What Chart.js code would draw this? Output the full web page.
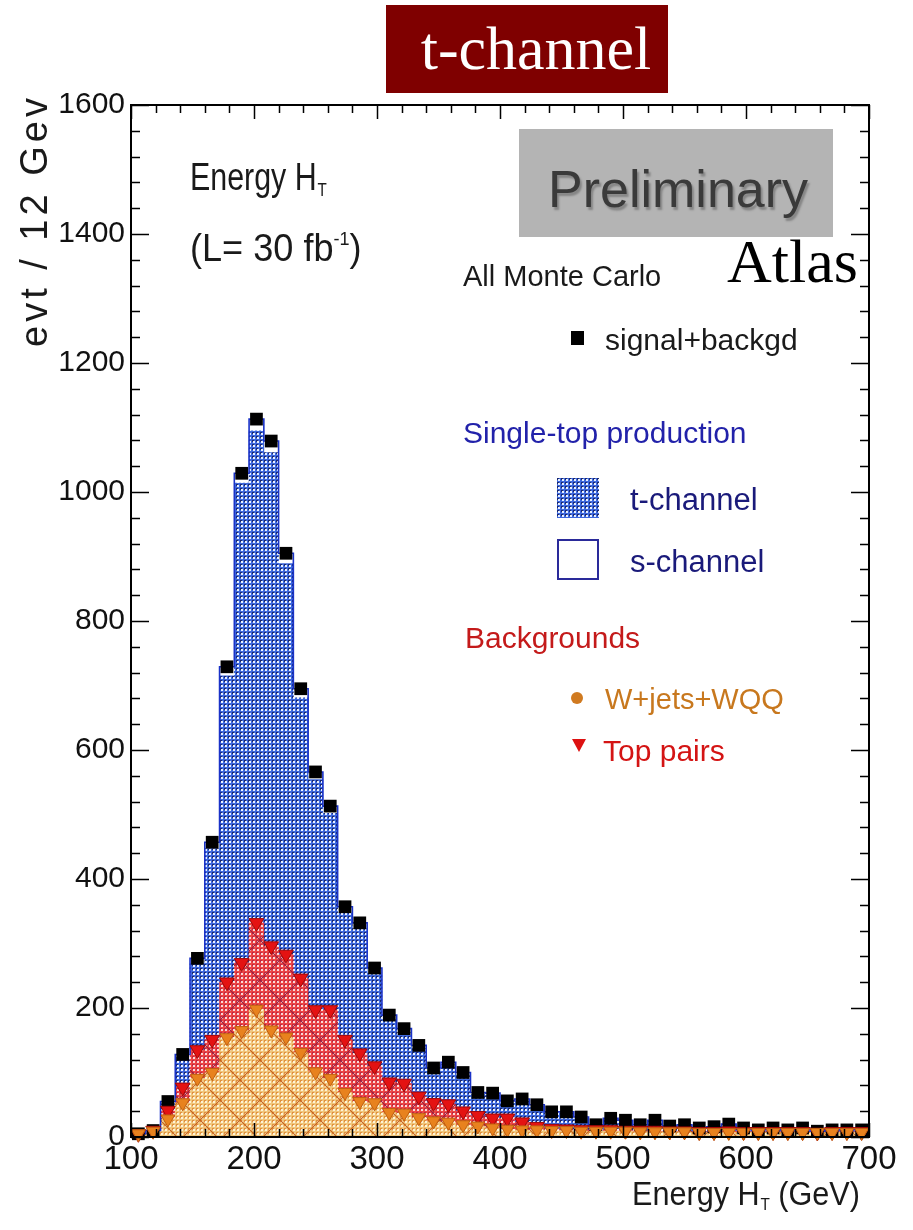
<!DOCTYPE html>
<html><head><meta charset="utf-8">
<script src="https://cdn.jsdelivr.net/npm/chart.js@4/dist/chart.umd.min.js"></script>
<style>
html,body{margin:0;padding:0;background:#fff}
#wrap{position:relative;width:913px;height:1230px;overflow:hidden;background:#fff}
#c{position:absolute;left:0;top:0}
.t{position:absolute;line-height:1;white-space:nowrap;font-family:'Liberation Sans',Arial,sans-serif;color:#1a1a1a}
.sub{font-size:0.5em;position:relative;top:0.3em;margin-left:1px}
.sup{font-size:0.5em;position:relative;top:-0.85em}
</style></head><body>
<div id="wrap">
<canvas id="c" width="913" height="1230"></canvas>

<div style="position:absolute;left:386px;top:5px;width:282px;height:88px;background:#7f0000;box-sizing:border-box;padding-left:18px;text-align:center;color:#fff;font-family:'Liberation Serif','Times New Roman',serif;font-size:62px;line-height:86px">t-channel</div>

<div class="t" style="left:190px;top:158px;font-size:38px;transform:scaleX(0.8);transform-origin:0 0">Energy H<span class="sub">T</span></div>
<div class="t" style="left:190px;top:229px;font-size:38px;transform:scaleX(0.95);transform-origin:0 0">(L= 30 fb<span class="sup">-1</span>)</div>

<div style="position:absolute;left:519px;top:129px;width:314px;height:108px;background:#b4b4b4"></div>
<div class="t" style="left:548px;top:163px;font-size:52px;color:#3a3a3a;text-shadow:2px 3px 2px #858585">Preliminary</div>
<div class="t" style="left:727px;top:230px;font-size:62px;color:#000;font-family:'Liberation Serif','Times New Roman',serif">Atlas</div>

<div class="t" style="left:463px;top:262px;font-size:29px">All Monte Carlo</div>
<div style="position:absolute;left:571px;top:331px;width:13px;height:14px;background:#000"></div>
<div class="t" style="left:605px;top:325px;font-size:30px">signal+backgd</div>

<div class="t" style="left:463px;top:418px;font-size:30px;color:#2222aa">Single-top production</div>
<canvas id="sw" width="42" height="40" style="position:absolute;left:557px;top:478px"></canvas>
<div class="t" style="left:630px;top:484px;font-size:31px;color:#1a1a7a">t-channel</div>
<div style="position:absolute;left:557px;top:539px;width:42px;height:41px;border:2px solid #2a2a9a;box-sizing:border-box;background:#fff"></div>
<div class="t" style="left:630px;top:546px;font-size:31px;color:#1a1a7a">s-channel</div>

<div class="t" style="left:465px;top:623px;font-size:30px;color:#c41a1a">Backgrounds</div>
<div style="position:absolute;left:571px;top:692px;width:12px;height:12px;border-radius:50%;background:#d07a20"></div>
<div class="t" style="left:605px;top:685px;font-size:29px;color:#c8781e">W+jets+WQQ</div>
<div style="position:absolute;left:572px;top:739px;width:0;height:0;border-left:7.5px solid transparent;border-right:7.5px solid transparent;border-top:13px solid #dd1111"></div>
<div class="t" style="left:603px;top:736px;font-size:30px;color:#d41414">Top pairs</div>

<div class="t" style="left:0;top:0;font-size:38px;letter-spacing:4px;transform-origin:0 0;transform:translate(15px,347px) rotate(-90deg)">evt / 12 Gev</div>
<div class="t" style="left:632px;top:1176px;font-size:34px;transform:scaleX(0.9);transform-origin:0 0">Energy H<span class="sub">T</span> (GeV)</div>
</div>

<script>
// ---- data ----
const binCenters = [106,118,130,142,154,166,178,190,202,214,226,238,250,262,274,286,298,310,322,334,346,358,370,382,394,406,418,430,442,454,466,478,490,502,514,526,538,550,562,574,586,598,610,622,634,646,658,670,682,694];
const wjets     = [5,9,28,53,91,100,154,165,198,166,155,131,101,91,69,55,53,38,37,30,25,23,19,17,14,12,11,11,10,10,9,9,9,9,8,8,8,8,7,7,7,7,7,7,7,7,7,7,7,7];
const topPairs  = [0,1,13,24,44,51,86,105,134,130,128,115,96,106,82,75,57,47,46,33,28,28,21,16,15,17,12,5,3,2,2,2,2,1,2,2,1,1,1,1,2,1,1,1,1,1,0,1,1,1];
const tChannel  = [0,0,11,46,134,296,475,744,763,765,606,435,357,305,196,193,144,97,79,74,49,61,56,33,36,24,33,32,24,25,18,7,17,15,8,15,7,9,5,7,10,5,2,5,2,5,1,2,2,2];
const sChannel  = [0,0,3,5,8,10,14,15,18,18,16,14,12,11,10,9,8,7,6,5,5,4,4,3,3,3,3,2,2,2,2,1,1,1,1,1,1,1,1,1,1,1,1,1,1,1,1,1,1,1];
const signalBackgd = [5,10,55,128,277,457,729,1029,1113,1079,905,695,566,513,357,332,262,189,168,142,107,116,100,69,68,56,59,50,39,39,31,19,29,26,19,26,17,19,14,16,20,14,11,14,11,14,9,11,11,11];
const xTicks = [100,200,300,400,500,600,700];
const yTicks = [0,200,400,600,800,1000,1200,1400,1600];

// ---- fill patterns ----
function makeTile(base, dark, light, lineColor, period){
  const c=document.createElement('canvas'); c.width=c.height=period; const g=c.getContext('2d');
  g.fillStyle=base; g.fillRect(0,0,period,period);
  for(let i=0;i<period;i+=4) for(let j=0;j<period;j+=4){
    g.fillStyle=dark; g.fillRect(i,j,2,1); g.fillRect(i,j,1,2);
    g.fillStyle=light; g.fillRect(i+1,j+1,2,2);
  }
  if(lineColor){ g.strokeStyle=lineColor; g.lineWidth=1.2; g.beginPath();
    g.moveTo(0,0); g.lineTo(period,period); g.moveTo(period,0); g.lineTo(0,period); g.stroke(); }
  return c;
}
const ctx=document.getElementById('c').getContext('2d');
const blueTile=makeTile('#3e68dc','#1c2a70','#e8f0ff',null,40);
const pBlue=ctx.createPattern(blueTile,'repeat');
const pRed=ctx.createPattern(makeTile('#ec4646','#c02840','#fad8d8','#9a2040',40),'repeat');
const pOrange=ctx.createPattern(makeTile('#f0c67c','#e09040','#fff2d6','#c8621c',40),'repeat');
const sw=document.getElementById('sw').getContext('2d'); sw.fillStyle=sw.createPattern(blueTile,'repeat'); sw.fillRect(0,0,42,40);

const pts = arr => binCenters.map((x,i)=>({x, y: arr[i]}));
const cumRed = binCenters.map((x,i)=>({x, y: wjets[i]+topPairs[i]}));
const envelope = [{x:xTicks[0], y:signalBackgd[0]}].concat(pts(signalBackgd), [{x:xTicks[xTicks.length-1], y:signalBackgd[signalBackgd.length-1]}]);

const barCommon={type:'bar',barPercentage:1,categoryPercentage:1,borderWidth:0,order:10,stack:'mc'};

const frame={id:'frame',afterDatasetsDraw(chart){
  const {ctx,chartArea:{left,right,top,bottom},scales:{x,y}}=chart;
  ctx.save(); ctx.strokeStyle='#000'; ctx.lineWidth=2;
  ctx.strokeRect(left,top,right-left,bottom-top);
  ctx.lineWidth=1.5; ctx.beginPath();
  for(let v=y.min; v<=y.max; v+=40){ const p=Math.round(y.getPixelForValue(v))+0.5; const L=(v%200===0)?18:9;
    ctx.moveTo(left,p); ctx.lineTo(left+L,p); ctx.moveTo(right,p); ctx.lineTo(right-L,p); }
  for(let v=x.min; v<=x.max; v+=20){ const p=Math.round(x.getPixelForValue(v))+0.5; const L=(v%100===0)?14:8;
    ctx.moveTo(p,top); ctx.lineTo(p,top+L); ctx.moveTo(p,bottom); ctx.lineTo(p,bottom-L); }
  ctx.stroke(); ctx.restore();
}};

new Chart(ctx,{
  type:'bar',
  data:{datasets:[
    {...barCommon,label:'W+jets+WQQ',data:pts(wjets),backgroundColor:pOrange},
    {...barCommon,label:'Top pairs',data:pts(topPairs),backgroundColor:pRed},
    {...barCommon,label:'t-channel',data:pts(tChannel),backgroundColor:pBlue},
    {...barCommon,label:'s-channel',data:pts(sChannel),backgroundColor:'#ffffff'},
    {type:'line',label:'outline',data:envelope,stepped:'middle',borderColor:'#1a32c8',borderWidth:1.6,pointRadius:0,fill:false,order:5,stack:'env'},
    {type:'line',label:'signal+backgd',data:pts(signalBackgd),showLine:false,pointStyle:'rect',pointRadius:9,pointBackgroundColor:'#000',pointBorderColor:'#000',pointBorderWidth:0,order:3,stack:'p1',clip:false},
    {type:'line',label:'Top pairs points',data:cumRed,showLine:false,pointStyle:'triangle',rotation:180,pointRadius:8.5,pointBackgroundColor:'#e41212',pointBorderColor:'#a00808',pointBorderWidth:1,order:2,stack:'p2',clip:false},
    {type:'line',label:'W+jets points',data:pts(wjets),showLine:false,pointStyle:'triangle',rotation:180,pointRadius:8,pointBackgroundColor:'#e8821e',pointBorderColor:'#c06010',pointBorderWidth:1,order:1,stack:'p3',clip:false}
  ]},
  options:{
    responsive:false,devicePixelRatio:1,animation:false,events:[],
    layout:{padding:{left:0,right:44,top:105,bottom:0}},
    plugins:{legend:{display:false},tooltip:{enabled:false},title:{display:false}},
    scales:{
      x:{type:'linear',min:xTicks[0],max:xTicks[xTicks.length-1],offset:false,stacked:true,
         afterFit(s){s.height=93;},
         afterBuildTicks(s){s.ticks=xTicks.map(v=>({value:v}));},
         grid:{display:false,drawTicks:false,tickLength:0},border:{display:false},
         ticks:{autoSkip:false,maxRotation:0,padding:3,color:'#111',font:{family:'Liberation Sans',size:33},callback:v=>String(v)}},
      y:{min:yTicks[0],max:yTicks[yTicks.length-1],stacked:true,
         afterFit(s){s.width=131;},
         afterBuildTicks(s){s.ticks=yTicks.map(v=>({value:v}));},
         grid:{display:false,drawTicks:false,tickLength:0},border:{display:false},
         ticks:{autoSkip:false,padding:6,color:'#111',font:{family:'Liberation Sans',size:30},callback:v=>String(v)}}
    }
  },
  plugins:[frame]
});
</script>
</body></html>
